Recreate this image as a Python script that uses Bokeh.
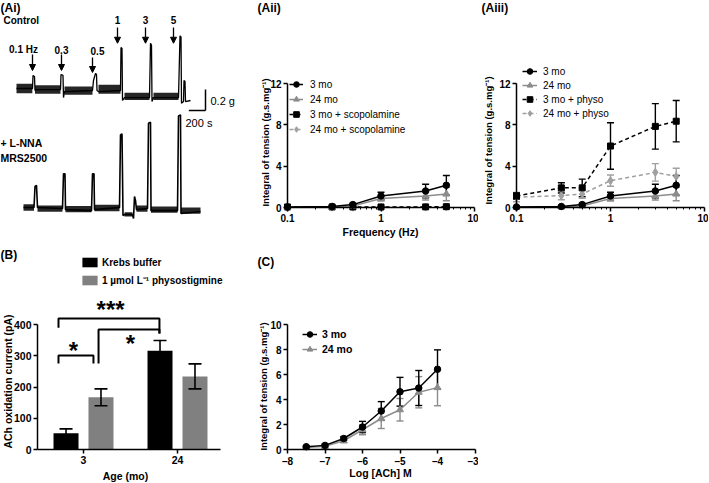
import math
from bokeh.plotting import figure
from bokeh.layouts import column, row
from bokeh.models import (Range1d, FixedTicker, PrintfTickFormatter, CustomJSTickFormatter,
                          Label, Legend, LegendItem, Whisker, TeeHead, ColumnDataSource,
                          Arrow, NormalHead)
from bokeh.core.properties import value
from bokeh.embed import file_html
from bokeh.resources import INLINE

# ---------------- data ----------------
# (Ai) myograph traces: time (s) and tension (g)
CTRL_T = [0, 192, 198, 216, 222, 240, 528, 534, 558, 564, 576, 912, 924, 948, 960, 966, 984,
          1248, 1254, 1266, 1272, 1296, 1596, 1608, 1620, 1626, 1644, 1944, 1962, 1974, 1980,
          2004, 2010, 2022, 2028, 2088]
CTRL_G = [0, 0, 0.124, 0.114, -0.019, -0.01, -0.01, 0.133, 0.124, -0.086, -0.029, -0.019, 0.076,
          0.143, 0.133, -0.019, -0.029, -0.019, 0.39, 0.38, -0.114, -0.086, -0.086, 0.43, 0.41,
          -0.124, -0.086, -0.086, 0.50, 0.49, -0.14, -0.124, 0.076, 0.067, -0.124, -0.114]
CTRL_NOISE_T0 = [0, 222, 576, 984, 1296, 1644]
CTRL_NOISE_T1 = [190, 528, 912, 1248, 1596, 1944]
CTRL_NOISE_LO = [-0.045, -0.05, -0.06, -0.05, -0.11, -0.11]
CTRL_NOISE_HI = [0.045, 0.03, 0.02, 0.035, -0.04, -0.04]

NNA_T = [84, 210, 222, 240, 252, 552, 564, 582, 588, 900, 912, 930, 936, 1236, 1248, 1266, 1278,
         1296, 1392, 1404, 1416, 1428, 1440, 1572, 1584, 1608, 1614, 1932, 1944, 1968, 1974, 2208]
NNA_G = [0, 0, 0.20, 0.21, 0, -0.01, 0.32, 0.32, -0.02, -0.03, 0.32, 0.32, -0.02, 0, 0.69, 0.70,
         -0.076, -0.067, -0.067, -0.105, 0.105, 0.067, -0.02, -0.01, 0.80, 0.81, -0.03, -0.03,
         0.87, 0.88, -0.057, -0.038]
NNA_NOISE_T0 = [84, 252, 588, 936, 1296, 1440, 1614, 1974]
NNA_NOISE_T1 = [210, 552, 900, 1236, 1392, 1572, 1932, 2208]
NNA_NOISE_LO = [-0.03, -0.04, -0.045, -0.035, -0.085, -0.04, -0.05, -0.06]
NNA_NOISE_HI = [0.03, 0.02, 0.015, 0.025, -0.045, 0.02, 0.01, 0.0]

STIM_LABELS = ["0.1 Hz", "0.3", "0.5", "1", "3", "5"]
STIM_T = [192, 540, 912, 1212, 1548, 1884]
SCALE_G = 0.2
SCALE_S = 200

# (Aii)/(Aiii) frequency-response
FREQ_HZ = [0.1, 0.3, 0.5, 1, 3, 5]
MO3 = [0.05, 0.10, 0.28, 1.12, 1.60, 2.15]
MO3_ERR = [0.04, 0.08, 0.12, 0.35, 0.65, 0.95]
MO24 = [0.03, 0.05, 0.15, 0.88, 1.12, 1.30]
MO24_ERR = [0.03, 0.05, 0.10, 0.25, 0.40, 0.65]
MO3_SCOP = [0.05, 0.05, 0.05, 0.05, 0.06, 0.08]
MO3_SCOP_ERR = [0.03, 0.03, 0.03, 0.03, 0.04, 0.05]
MO24_SCOP = [0.03, 0.03, 0.03, 0.03, 0.04, 0.05]
MO24_SCOP_ERR = [0.02, 0.02, 0.02, 0.02, 0.03, 0.03]
MO3_PHYSO = [1.12, 1.90, 1.90, 5.95, 7.85, 8.35]
MO3_PHYSO_ERR = [0.30, 0.50, 0.85, 2.25, 2.20, 2.00]
MO24_PHYSO = [1.00, 1.15, 1.30, 2.60, 3.40, 3.00]
MO24_PHYSO_ERR = [0.45, 0.40, 0.40, 0.55, 0.85, 0.80]

# (B) ACh oxidation current
AGE = ["3", "24"]
KREBS = [52, 316]
KREBS_ERR = [14, 33]
PHYSO = [167, 234]
PHYSO_ERR = [27, 40]
# brackets: x_left, x_right (group units), y_top, y_left_end, y_right_end (pA)
BRACKET_XL = [0.734, 1.160, 0.734]
BRACKET_XR = [1.808, 1.808, 1.106]
BRACKET_TOP = [419, 384, 301]
BRACKET_LEND = [390, 275, 275]
BRACKET_REND = [371, 371, 275]
SIG_TEXT = ["***", "*", "*"]
SIG_X = [1.288, 1.500, 0.893]
SIG_Y = [448, 340, 318]

# (C) ACh concentration-response
LOG_ACH = [-7.5, -7, -6.5, -6, -5.5, -5, -4.5, -4]
C_MO3 = [0.22, 0.33, 0.88, 1.80, 3.08, 4.62, 4.92, 6.42]
C_MO3_ERR = [0.08, 0.10, 0.15, 0.45, 0.75, 1.15, 1.40, 1.55]
C_MO24 = [0.15, 0.25, 0.70, 1.58, 2.48, 3.18, 4.58, 4.95]
C_MO24_ERR = [0.06, 0.10, 0.15, 0.40, 0.80, 0.90, 1.25, 1.45]

# ---------------- style / layout ----------------
FONT = "Liberation Sans"
BLACK = "#000000"
GRAY = "#8c8c8c"
LGRAY = "#a0a0a0"
BARGRAY = "#808080"
GEOM = {}


def lin_range(v0, p0, v1, p1, pa, pb):
    """Range whose frame spans pixels pa..pb, with value v0 at pixel p0 and v1 at p1."""
    k = (v1 - v0) / (p1 - p0)
    return v0 + (pa - p0) * k, v0 + (pb - p0) * k


def make_fig(name, w, h, ox, oy, xr, yr, **kw):
    p = figure(width=w, height=h, x_range=Range1d(*xr), y_range=Range1d(*yr),
               output_backend="svg", toolbar_location=None, min_border=0,
               min_border_left=0, min_border_right=0, min_border_top=0, min_border_bottom=0,
               **kw)
    p.outline_line_color = None
    p.grid.visible = False
    p.background_fill_color = "white"
    p.border_fill_color = "white"
    p.frame_align = False
    GEOM[name] = (ox, oy, h)
    return p


def style_axis(ax, size=10):
    ax.axis_line_width = 1.5
    ax.axis_line_color = BLACK
    ax.major_tick_line_width = 1.5
    ax.major_tick_line_color = BLACK
    ax.major_tick_out = 4
    ax.major_tick_in = 0
    ax.minor_tick_line_color = None
    ax.major_label_text_font = FONT
    ax.major_label_text_font_size = f"{size}px"
    ax.major_label_text_font_style = "bold"
    ax.major_label_text_color = BLACK
    ax.major_label_standoff = 2


def add_text(p, name, rx, ry, text, size, bold=False, align="center", angle=0.0,
             baseline="middle"):
    ox, oy, h = GEOM[name]
    p.add_layout(Label(x=rx - ox, y=(oy + h) - ry, x_units="screen", y_units="screen",
                       text=text, text_font=FONT, text_font_size=f"{size}px",
                       text_font_style="bold" if bold else "normal",
                       text_align=align, text_baseline=baseline, angle=angle,
                       text_color=BLACK))


def line_series(p, x, y, err, color, marker, size, dash="solid"):
    src = ColumnDataSource(dict(x=list(x), y=list(y),
                                upper=[a + e for a, e in zip(y, err)],
                                lower=[a - e for a, e in zip(y, err)]))
    p.add_layout(Whisker(source=src, base="x", upper="upper", lower="lower",
                         dimension="height", line_color=color, line_width=1.4,
                         upper_head=TeeHead(size=7, line_color=color, line_width=1.4),
                         lower_head=TeeHead(size=7, line_color=color, line_width=1.4)))
    r1 = p.line("x", "y", source=src, line_color=color, line_width=1.5, line_dash=dash)
    r2 = p.scatter("x", "y", source=src, marker=marker, size=size,
                   fill_color=color, line_color=color)
    return [r1, r2]


def add_legend(p, items, loc, glyph_w, glyph_h, label_h, spacing, standoff, size, bold):
    lg = Legend(items=[LegendItem(label=value(t), renderers=r) for t, r in items],
                location=loc, orientation="vertical", padding=0, margin=0,
                spacing=spacing, glyph_width=glyph_w, glyph_height=glyph_h,
                label_height=label_h, label_standoff=standoff,
                label_text_font=FONT, label_text_font_size=f"{size}px",
                label_text_font_style="bold" if bold else "normal",
                label_text_color=BLACK, border_line_color=None,
                background_fill_alpha=0)
    p.add_layout(lg)


LOG_MAJOR = [0.1, 1, 10]
LOG_MINOR = [0.2, 0.3, 0.4, 0.5, 0.6, 0.7, 0.8, 0.9, 2, 3, 4, 5, 6, 7, 8, 9]
YLABEL = "Integral of tension (g.s.mg\u207b\u00b9)"
TOP_H, BOT_H = 240, 242

# ---------------- (Ai) traces ----------------
ai = make_fig("ai", 235, TOP_H, 0, 0, lin_range(0, 16, 12, 17, 0, 235),
              lin_range(0, 88, -0.0095, 89, 240, 0), x_axis_type=None, y_axis_type=None)
TRACE2_OFFSET = -1.1305
ai.quad(left=CTRL_NOISE_T0, right=CTRL_NOISE_T1, bottom=CTRL_NOISE_LO, top=CTRL_NOISE_HI,
        fill_color=BLACK, fill_alpha=0.85, line_color=None)
ai.line(CTRL_T, CTRL_G, line_color=BLACK, line_width=1.3)
ai.quad(left=NNA_NOISE_T0, right=NNA_NOISE_T1,
        bottom=[v + TRACE2_OFFSET for v in NNA_NOISE_LO],
        top=[v + TRACE2_OFFSET for v in NNA_NOISE_HI],
        fill_color=BLACK, fill_alpha=0.85, line_color=None)
ai.line(NNA_T, [v + TRACE2_OFFSET for v in NNA_G], line_color=BLACK, line_width=1.6)

ARROW_TOP = [0.323, 0.323, 0.295, 0.58, 0.58, 0.58]
ARROW_TIP = [0.171, 0.171, 0.152, 0.43, 0.43, 0.43]
for t, y0, y1 in zip(STIM_T, ARROW_TOP, ARROW_TIP):
    ai.add_layout(Arrow(x_start=t, y_start=y0, x_end=t, y_end=y1, line_width=1.3,
                        line_color=BLACK,
                        end=NormalHead(size=6, fill_color=BLACK, line_color=BLACK)))
LABEL_POS = [(23, 49), (61, 49), (97, 50), (117, 19), (145, 19), (173, 19)]
for lab, (rx, ry) in zip(STIM_LABELS, LABEL_POS):
    add_text(ai, "ai", rx, ry, lab, 10, bold=True)

SB_T, SB_G = 2268, -0.0095
ai.segment(x0=[SB_T, SB_T - SCALE_S], y0=[SB_G, SB_G - SCALE_G],
           x1=[SB_T, SB_T], y1=[SB_G - SCALE_G, SB_G - SCALE_G],
           line_color=BLACK, line_width=1.5)
add_text(ai, "ai", 0, 7, "(Ai)", 12, bold=True, align="left")
add_text(ai, "ai", 3, 20, "Control", 10, bold=True, align="left")
add_text(ai, "ai", 210, 100, "0.2 g", 11, align="left")
add_text(ai, "ai", 185, 122, "200 s", 11, align="left")
add_text(ai, "ai", 0, 142, "+ L-NNA", 10.5, bold=True, align="left")
add_text(ai, "ai", 0, 157, "MRS2500", 10.5, bold=True, align="left")


# ---------------- (Aii) / (Aiii) ----------------
def freq_fig(name, w, ox, px01, px10):
    lx = lin_range(-1, px01, 1, px10, ox, ox + w)
    p = make_fig(name, w, TOP_H, ox, 0, (10 ** lx[0], 10 ** lx[1]),
                 lin_range(0, 207, 12, 83, TOP_H, 0), x_axis_type="log")
    for ax in (p.xaxis[0], p.yaxis[0]):
        style_axis(ax)
    p.xaxis.fixed_location = 0
    p.xaxis.bounds = (0.1, 10)
    p.yaxis.fixed_location = 0.1
    p.yaxis.bounds = (0, 12)
    p.xaxis.ticker = FixedTicker(ticks=LOG_MAJOR, minor_ticks=LOG_MINOR)
    p.xaxis.formatter = PrintfTickFormatter(format="%g")
    p.xaxis.minor_tick_line_color = BLACK
    p.xaxis.minor_tick_line_width = 1
    p.xaxis.minor_tick_out = 2
    p.xaxis.minor_tick_in = 0
    p.yaxis.ticker = FixedTicker(ticks=[0, 4, 8, 12])
    return p


aii = freq_fig("aii", 243, 235, 287, 474)
r24s = line_series(aii, FREQ_HZ, MO24_SCOP, MO24_SCOP_ERR, LGRAY, "diamond", 8, "4 3")
r3s = line_series(aii, FREQ_HZ, MO3_SCOP, MO3_SCOP_ERR, BLACK, "square", 6, "4 3")
r24 = line_series(aii, FREQ_HZ, MO24, MO24_ERR, GRAY, "triangle", 7)
r3 = line_series(aii, FREQ_HZ, MO3, MO3_ERR, BLACK, "circle", 6.5)
add_legend(aii, [("3 mo", r3), ("24 mo", r24), ("3 mo + scopolamine", r3s),
                 ("24 mo + scopolamine", r24s)], (54, 104), 14, 14, 14, 1, 7, 10, False)
add_text(aii, "aii", 257, 7, "(Aii)", 12, bold=True, align="left")
add_text(aii, "aii", 265, 142, YLABEL, 9.5, bold=True, angle=math.pi / 2)
add_text(aii, "aii", 380, 231, "Frequency (Hz)", 10.5, bold=True)

aiii = freq_fig("aiii", 230, 478, 516, 704)
r24p = line_series(aiii, FREQ_HZ, MO24_PHYSO, MO24_PHYSO_ERR, LGRAY, "diamond", 8, "4 3")
r3p = line_series(aiii, FREQ_HZ, MO3_PHYSO, MO3_PHYSO_ERR, BLACK, "square", 6, "4 3")
r24b = line_series(aiii, FREQ_HZ, MO24, MO24_ERR, GRAY, "triangle", 7)
r3b = line_series(aiii, FREQ_HZ, MO3, MO3_ERR, BLACK, "circle", 6.5)
add_legend(aiii, [("3 mo", r3b), ("24 mo", r24b), ("3 mo + physo", r3p),
                  ("24 mo + physo", r24p)], (44, 120), 15, 14, 14, 0, 6, 10, False)
add_text(aiii, "aiii", 481, 7, "(Aiii)", 12, bold=True, align="left")
add_text(aiii, "aiii", 488, 140, YLABEL, 9.5, bold=True, angle=math.pi / 2)

# ---------------- (B) bars ----------------
GROUP_POS = [i + 1 for i in range(len(AGE))]
BAR_W = 0.266
BAR_OFF = 0.186
b = make_fig("b", 235, BOT_H, 0, TOP_H, lin_range(1, 83, 2, 177, 0, 235),
             lin_range(0, 449, 400, 324, 482, 240))
for ax in (b.xaxis[0], b.yaxis[0]):
    style_axis(ax, 10.5)
bx_lo, bx_hi = lin_range(1, 83, 2, 177, 37, 220)
b.xaxis.fixed_location = 0
b.xaxis.bounds = (bx_lo, bx_hi)
b.yaxis.fixed_location = bx_lo
b.yaxis.bounds = (0, 400)
b.yaxis.ticker = FixedTicker(ticks=[0, 100, 200, 300, 400])
b.xaxis.ticker = FixedTicker(ticks=GROUP_POS)
b.xaxis.major_label_overrides = {g: a for g, a in zip(GROUP_POS, AGE)}

xk = [g - BAR_OFF for g in GROUP_POS]
xp = [g + BAR_OFF for g in GROUP_POS]
rk = b.vbar(x=xk, top=KREBS, width=BAR_W, fill_color=BLACK, line_color=None)
rp = b.vbar(x=xp, top=PHYSO, width=BAR_W, fill_color=BARGRAY, line_color=None)
for xs, vals, errs in ((xk, KREBS, KREBS_ERR), (xp, PHYSO, PHYSO_ERR)):
    src = ColumnDataSource(dict(x=xs, upper=[v + e for v, e in zip(vals, errs)],
                                lower=[v - e for v, e in zip(vals, errs)]))
    b.add_layout(Whisker(source=src, base="x", upper="upper", lower="lower",
                         dimension="height", line_color=BLACK, line_width=1.6, level="overlay",
                         upper_head=TeeHead(size=13, line_color=BLACK, line_width=1.6),
                         lower_head=TeeHead(size=13, line_color=BLACK, line_width=1.6)))
bxs, bys = [], []
for xl, xr, yt, yl, yr in zip(BRACKET_XL, BRACKET_XR, BRACKET_TOP, BRACKET_LEND, BRACKET_REND):
    bxs.append([xl, xl, xr, xr])
    bys.append([yl, yt, yt, yr])
b.multi_line(bxs, bys, line_color=BLACK, line_width=2)
b.text(x=SIG_X, y=SIG_Y, text=SIG_TEXT, text_font=value(FONT), text_font_size=value("24px"),
       text_font_style=value("bold"), text_align=value("center"),
       text_baseline=value("alphabetic"), text_color=BLACK)
add_legend(b, [("Krebs buffer", [rk]), ("1 \u00b5mol L\u207b\u00b9 physostigmine", [rp])],
           (80, 195), 19, 12, 12, 5, 3, 10, True)
add_text(b, "b", 0, 254, "(B)", 12, bold=True, align="left")
add_text(b, "b", 7, 381, "ACh oxidation current (pA)", 10.5, bold=True, angle=math.pi / 2)
add_text(b, "b", 125, 475, "Age (mo)", 10.5, bold=True)

# ---------------- (C) concentration-response ----------------
c = make_fig("c", 243, BOT_H, 235, TOP_H, lin_range(-8, 287, -3, 474.5, 235, 478),
             lin_range(0, 449, 10, 324, 482, 240))
for ax in (c.xaxis[0], c.yaxis[0]):
    style_axis(ax)
c.xaxis.fixed_location = 0
c.xaxis.bounds = (-8, -3)
c.yaxis.fixed_location = -8
c.yaxis.bounds = (0, 10)
c.xaxis.ticker = FixedTicker(ticks=[-8, -7, -6, -5, -4, -3])
c.xaxis.formatter = CustomJSTickFormatter(code="return tick < 0 ? '\u2013' + Math.abs(tick) : '' + tick;")
c.yaxis.ticker = FixedTicker(ticks=[0, 2, 4, 6, 8, 10])
c24 = line_series(c, LOG_ACH, C_MO24, C_MO24_ERR, GRAY, "triangle", 7)
c3 = line_series(c, LOG_ACH, C_MO3, C_MO3_ERR, BLACK, "circle", 6.5)
add_legend(c, [("3 mo", c3), ("24 mo", c24)], (67, 126), 15, 14, 14, 1, 5, 10.5, True)
add_text(c, "c", 257, 261, "(C)", 12, bold=True, align="left")
add_text(c, "c", 263, 386, YLABEL, 9.5, bold=True, angle=math.pi / 2)
add_text(c, "c", 380, 472, "Log [ACh] M", 10.5, bold=True)

layout = column(row(ai, aii, aiii), row(b, c))
open("out.html", "w").write(file_html(layout, INLINE))
